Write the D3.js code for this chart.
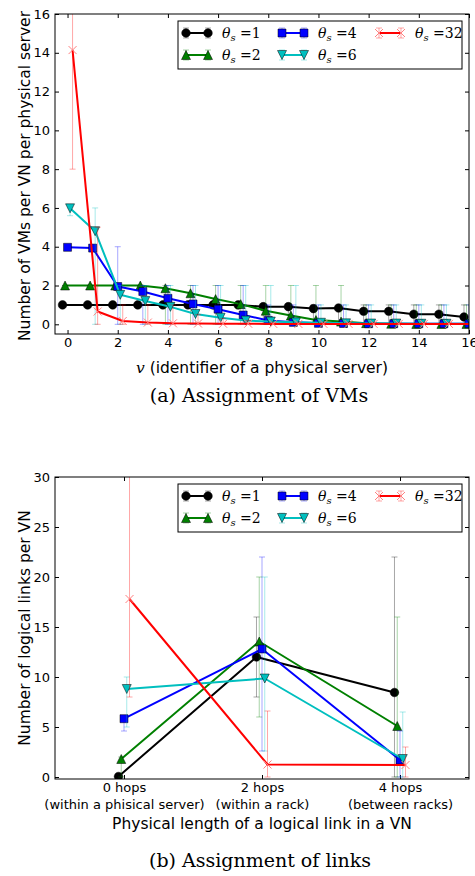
<!DOCTYPE html>
<html><head><meta charset="utf-8">
<script src="https://cdn.jsdelivr.net/npm/d3@7"></script>
<style>body{margin:0;background:#fff} svg{display:block}</style>
</head><body>
<script>
// ---------- DATA ----------
const thetaLabels = ["1", "2", "4", "6", "32"];
const seriesColors = ["#000000", "#008000", "#0000ff", "#00bfbf", "#ff0000"];
const seriesMarkers = ["circle", "triUp", "square", "triDown", "cross"];

// (a) Assignment of VMs
const servers = [0,1,2,3,4,5,6,7,8,9,10,11,12,13,14,15,16];
const serverTicks = [0,2,4,6,8,10,12,14,16];
const vmTicks = [0,2,4,6,8,10,12,14,16];
const vmT1  = [1,1,1,1,1,1,1,1,0.91,0.91,0.81,0.84,0.67,0.67,0.52,0.52,0.38];
const vmT2  = [2,2,2,2,1.86,1.6,1.3,1.04,0.7,0.45,0.22,0.14,0.06,0.03,0.02,0.02,0.02];
const vmT4  = [3.97,3.93,1.95,1.69,1.34,1.05,0.78,0.48,0.2,0.1,0.05,0.04,0.03,0.03,0.03,0.03,0.03];
const vmT6  = [5.98,4.8,1.52,1.2,0.9,0.53,0.34,0.19,0.14,0.1,0.08,0.05,0.04,0.04,0.03,0.03,0.03];
const vmT32 = [14.14,0.66,0.17,0.09,0.05,0.04,0.03,0.03,0.02,0.02,0.02,0.02,0.02,0.02,0.02,0.02,0.02];
const vmLo1  = [1,1,1,1,1,1,1,1,0,0,0,0,0,0,0,0,0];
const vmHi1  = [1,1,1,1,1,1,1,1,1,1,1,1,1,1,1,1,1];
const vmLo2  = [2,2,2,2,0,0,0,0,0,0,0,0,0,0,0,0,0];
const vmHi2  = [2,2,2,2,2,2,2,2,2,2,2,2,1,1,1,1,1];
const vmLo4  = [3.97,3.9,0,0,0,0,0,0,0,0,0,0,0,0,0,0,0];
const vmHi4  = [4,4,4,2,2,2,2,2,1,1,1,1,1,1,1,1,1];
const vmLo6  = [5.6,0,0,0,0,0,0,0,0,0,0,0,0,0,0,0,0];
const vmHi6  = [6,6,2,2,2,2,2,2,2,2,1,1,1,1,1,1,1];
const vmLo32 = [8,0,0,0,0,0,0,0,0,0,0,0,0,0,0,0,0];
const vmHi32 = [20,5,1,1,1,0.5,0.3,0.2,0.1,0.1,0.1,0.1,0.1,0.1,0.1,0.1,0.1];

// (b) Assignment of links
const hopLabels = ["0 hops", "2 hops", "4 hops"];
const hopSubLabels = ["(within a phisical server)", "(within a rack)", "(between racks)"];
const linkTicks = [0,5,10,15,20,25,30];
const linkT1  = [0.05, 12.0, 8.45];
const linkT2  = [1.8, 13.55, 5.1];
const linkT4  = [5.83, 12.8, 1.7];
const linkT6  = [8.8, 9.85, 1.8];
const linkT32 = [17.8, 1.25, 1.2];
const linkLo1  = [0, 8, 0];    const linkHi1  = [0, 16, 22];
const linkLo2  = [0, 6, 0];    const linkHi2  = [2, 20, 16];
const linkLo4  = [4.6, 2.6, 0]; const linkHi4  = [6, 22, 4.6];
const linkLo6  = [5, 2.6, 0];  const linkHi6  = [10, 20, 6.5];
const linkLo32 = [8, 0, 0];    const linkHi32 = [36, 6.6, 3];

// ---------- DRAWING ----------
const W = 475, H = 876;
const svg = d3.select("body").append("svg").attr("width", W).attr("height", H);

function markerPath(type) {
  const h = 4.5;
  switch (type) {
    case "circle": return d3.arc()({innerRadius:0, outerRadius:4.3, startAngle:0, endAngle:2*Math.PI});
    case "square": return "M-4,-4H4V4H-4Z";
    case "triUp": return `M0,${-h}L${h},${h}L${-h},${h}Z`;
    case "triDown": return `M0,${h}L${h},${-h}L${-h},${-h}Z`;
    case "cross": return "M-4,-4L4,4M-4,4L4,-4";
  }
}
function drawMarker(g, type, color, x, y) {
  const p = g.append("path").attr("d", markerPath(type)).attr("transform", `translate(${x},${y})`);
  if (type === "cross") p.attr("fill", "none").attr("stroke", "#ff8080").attr("stroke-width", 1);
  else p.attr("fill", color).attr("stroke", "#000").attr("stroke-width", 0.5);
}

function drawPanel(cfg) {
  const {left, right, top, bottom, xDomain, yDomain, cats, xTicks, yTicks, series, offsets, id} = cfg;
  const x = d3.scaleLinear().domain(xDomain).range([left, right]);
  const y = d3.scaleLinear().domain(yDomain).range([bottom, top]);
  const g = svg.append("g");
  svg.append("defs").append("clipPath").attr("id", id).append("rect")
    .attr("x", left).attr("y", top).attr("width", right-left).attr("height", bottom-top);

  // axes (ticks inward on all sides)
  const ax = g.append("g");
  ax.append("g").attr("transform", `translate(${left},0)`)
    .call(d3.axisLeft(y).tickValues(yTicks).tickSizeInner(-4).tickSizeOuter(0).tickPadding(5));
  ax.append("g").attr("transform", `translate(${right},0)`)
    .call(d3.axisRight(y).tickValues(yTicks).tickSizeInner(-4).tickSizeOuter(0).tickFormat(""));
  const xl = ax.append("g").attr("transform", `translate(0,${bottom})`)
    .call(d3.axisBottom(x).tickValues(xTicks).tickSizeInner(-4).tickSizeOuter(0).tickPadding(4)
      .tickFormat(d => d));
  ax.append("g").attr("transform", `translate(0,${top})`)
    .call(d3.axisTop(x).tickValues(xTicks).tickSizeInner(-4).tickSizeOuter(0).tickFormat(""));
  ax.selectAll(".domain").remove();
  ax.selectAll("g").attr("font-family", "DejaVu Sans").attr("font-size", 13);
  ax.selectAll("text").attr("fill", "#000");
  ax.selectAll("line").attr("stroke", "#000");
  if (cfg.xSub) {
    xl.selectAll(".tick text").each(function(d, i) {
      const t = d3.select(this);
      t.text(null);
      t.append("tspan").attr("x", 0).text(hopLabels[i]);
      t.append("tspan").attr("x", 0).attr("dy", "1.3em").text(hopSubLabels[i]);
    });
  }

  const plot = g.append("g").attr("clip-path", `url(#${id})`);
  series.forEach((s, k) => {
    const sg = plot.append("g");
    const px = cats.map(c => x(c + offsets[k]));
    s.vals.forEach((v, i) => {
      const y1 = y(s.lo[i]), y2 = y(s.hi[i]);
      const c = seriesColors[k];
      sg.append("line").attr("x1", px[i]).attr("x2", px[i]).attr("y1", y1).attr("y2", y2)
        .attr("stroke", c).attr("stroke-opacity", 0.35).attr("stroke-width", 1);
      [y1, y2].forEach(yy => sg.append("line").attr("x1", px[i]-3).attr("x2", px[i]+3)
        .attr("y1", yy).attr("y2", yy).attr("stroke", c).attr("stroke-opacity", 0.35).attr("stroke-width", 1));
    });
    const line = d3.line().x((d, i) => px[i]).y(d => y(d));
    sg.append("path").datum(s.vals).attr("d", line).attr("fill", "none")
      .attr("stroke", seriesColors[k]).attr("stroke-width", 2).attr("stroke-linejoin", "round");
    s.vals.forEach((v, i) => drawMarker(sg, seriesMarkers[k], seriesColors[k], px[i], y(v)));
  });

  // frame
  g.append("rect").attr("x", left).attr("y", top).attr("width", right-left).attr("height", bottom-top)
    .attr("fill", "none").attr("stroke", "#000").attr("stroke-width", 1);

  // legend
  const bx = 178, by = top + 7, bw = right - 7 - 178, bh = 48;
  const lg = g.append("g");
  lg.append("rect").attr("x", bx).attr("y", by).attr("width", bw).attr("height", bh)
    .attr("fill", "#fff").attr("stroke", "#000").attr("stroke-width", 1);
  const colX = [bx + 8, bx + 104, bx + 201];
  series.forEach((s, k) => {
    const cx = colX[Math.floor(k / 2)];
    const cy = by + 12 + (k % 2) * 22;
    const c = seriesColors[k];
    [cx, cx + 22].forEach(xx => {
      lg.append("line").attr("x1", xx).attr("x2", xx).attr("y1", cy-5).attr("y2", cy+5)
        .attr("stroke", c).attr("stroke-opacity", 0.35);
      [cy-5, cy+5].forEach(yy => lg.append("line").attr("x1", xx-3).attr("x2", xx+3).attr("y1", yy).attr("y2", yy)
        .attr("stroke", c).attr("stroke-opacity", 0.35));
    });
    lg.append("line").attr("x1", cx).attr("x2", cx + 22).attr("y1", cy).attr("y2", cy)
      .attr("stroke", c).attr("stroke-width", 2);
    drawMarker(lg, seriesMarkers[k], c, cx, cy);
    drawMarker(lg, seriesMarkers[k], c, cx + 22, cy);
    const t = lg.append("text").attr("x", cx + 36).attr("y", cy + 5)
      .attr("font-family", "DejaVu Serif").attr("font-size", 14).attr("fill", "#000");
    t.append("tspan").attr("font-style", "italic").text("θ");
    t.append("tspan").attr("font-style", "italic").attr("font-size", 10).attr("dy", 3).text("s");
    t.append("tspan").attr("dy", -3).text(" =" + thetaLabels[k]);
  });

  g.append("text").attr("transform", `translate(30,${cfg.yLabelY}) rotate(-90)`)
    .attr("text-anchor", "middle").attr("font-family", "DejaVu Sans").attr("font-size", 15.5)
    .text(cfg.yLabel);
  return g;
}

const offA = [-0.2, -0.1, 0, 0.1, 0.2];
drawPanel({
  id: "clipA", left: 55, right: 469, top: 14, bottom: 334,
  xDomain: [-0.5, 16], yDomain: [-0.5, 16], cats: servers,
  xTicks: serverTicks, yTicks: vmTicks, offsets: offA,
  yLabel: "Number of VMs per VN per physical server", yLabelY: 176,
  series: [
    {vals: vmT1, lo: vmLo1, hi: vmHi1},
    {vals: vmT2, lo: vmLo2, hi: vmHi2},
    {vals: vmT4, lo: vmLo4, hi: vmHi4},
    {vals: vmT6, lo: vmLo6, hi: vmHi6},
    {vals: vmT32, lo: vmLo32, hi: vmHi32}
  ]
});
const xlabA = svg.append("text").attr("x", 262).attr("y", 373).attr("text-anchor", "middle")
  .attr("font-family", "DejaVu Sans").attr("font-size", 15.5);
xlabA.append("tspan").attr("font-family", "DejaVu Serif").attr("font-style", "italic").text("v");
xlabA.append("tspan").text(" (identifier of a physical server)");
svg.append("text").attr("x", 259).attr("y", 402).attr("text-anchor", "middle")
  .attr("font-family", "DejaVu Serif").attr("font-size", 19).text("(a) Assignment of VMs");

const offB = [-0.04, -0.02, 0, 0.02, 0.04];
drawPanel({
  id: "clipB", left: 55, right: 469, top: 477, bottom: 779,
  xDomain: [-0.5, 2.5], yDomain: [-0.2, 30], cats: [0, 1, 2],
  xTicks: [0, 1, 2], yTicks: linkTicks, offsets: offB, xSub: true,
  yLabel: "Number of logical links per VN", yLabelY: 628,
  series: [
    {vals: linkT1, lo: linkLo1, hi: linkHi1},
    {vals: linkT2, lo: linkLo2, hi: linkHi2},
    {vals: linkT4, lo: linkLo4, hi: linkHi4},
    {vals: linkT6, lo: linkLo6, hi: linkHi6},
    {vals: linkT32, lo: linkLo32, hi: linkHi32}
  ]
});
svg.append("text").attr("x", 262).attr("y", 829).attr("text-anchor", "middle")
  .attr("font-family", "DejaVu Sans").attr("font-size", 15.5).text("Physical length of a logical link in a VN");
svg.append("text").attr("x", 260).attr("y", 867).attr("text-anchor", "middle")
  .attr("font-family", "DejaVu Serif").attr("font-size", 19).text("(b) Assignment of links");
</script>
</body></html>
